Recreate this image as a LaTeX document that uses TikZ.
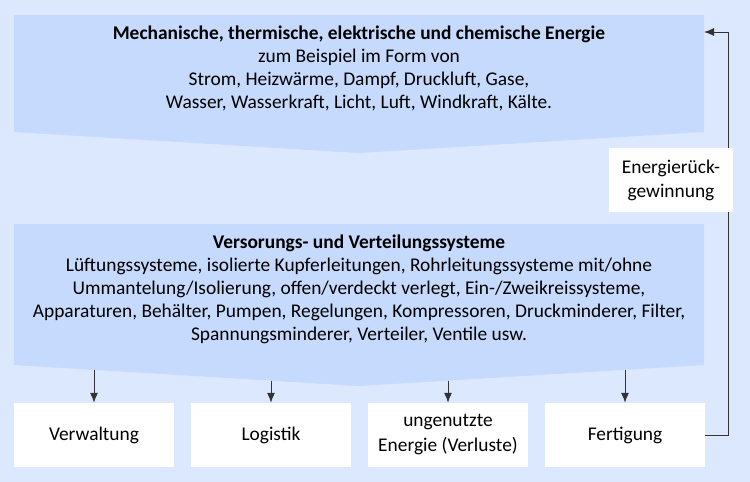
\documentclass[tikz,border=0pt]{standalone}
\usepackage{fontspec}
\setmainfont{Carlito}
\usetikzlibrary{arrows.meta}
\definecolor{bgblue}{RGB}{220,232,254}
\definecolor{boxblue}{RGB}{197,218,252}
\begin{document}
\begin{tikzpicture}[x=1pt,y=-1pt,font=\fontsize{19.4}{23}\selectfont,
    leaf/.style={fill=white,minimum width=160pt,minimum height=64pt,align=center,inner sep=0pt},
    link/.style={draw=black!80,line width=1pt,-{Latex[length=10pt,width=8pt]}}]
  \fill[bgblue] (0,0) rectangle (750,482);
  \fill[boxblue] (14,15) -- (704,15) -- (704,132) -- (359,153) -- (14,132) -- cycle;
  \fill[boxblue] (14,224) -- (704,224) -- (704,365) -- (359,386) -- (14,365) -- cycle;
  \node[align=center] (source) at (359,68) {\textbf{Mechanische, thermische, elektrische und chemische Energie}\\ zum Beispiel im Form von\\ Strom, Heizwärme, Dampf, Druckluft, Gase,\\ Wasser, Wasserkraft, Licht, Luft, Windkraft, Kälte.};
  \node[align=center] (netz) at (359,289) {\textbf{Versorungs- und Verteilungssysteme}\\ Lüftungssysteme, isolierte Kupferleitungen, Rohrleitungssysteme mit/ohne\\ Ummantelung/Isolierung, offen/verdeckt verlegt, Ein-/Zweikreissysteme,\\ Apparaturen, Behälter, Pumpen, Regelungen, Kompressoren, Druckminderer, Filter,\\ Spannungsminderer, Verteiler, Ventile usw.};
  \foreach \n/\x/\t in {verwaltung/94/Verwaltung,logistik/271/Logistik,verluste/448/{ungenutzte\\ Energie (Verluste)},fertigung/625/Fertigung} \node[leaf,font=\fontsize{19.4}{25}\selectfont] (\n) at (\x,435) {\t};
  \foreach \n/\x/\y in {verwaltung/94/370,logistik/271/380.6,verluste/448/380.6,fertigung/625/370} {
    \coordinate (\n-in) at (\x,\y);
    \draw[link] (\n-in) -- (\n);
  }
  \coordinate (rueck) at (728,32);
  \coordinate (source-in) at (704,32);
  \draw[link] (fertigung.east) -| (rueck) -- (source-in);
  \node[leaf,minimum width=124pt,font=\fontsize{19.4}{24}\selectfont] (gewinn) at (671,180) {\raisebox{0pt}[\height][\depth]{}Energierück-\\ gewinnung};
\end{tikzpicture}
\end{document}
